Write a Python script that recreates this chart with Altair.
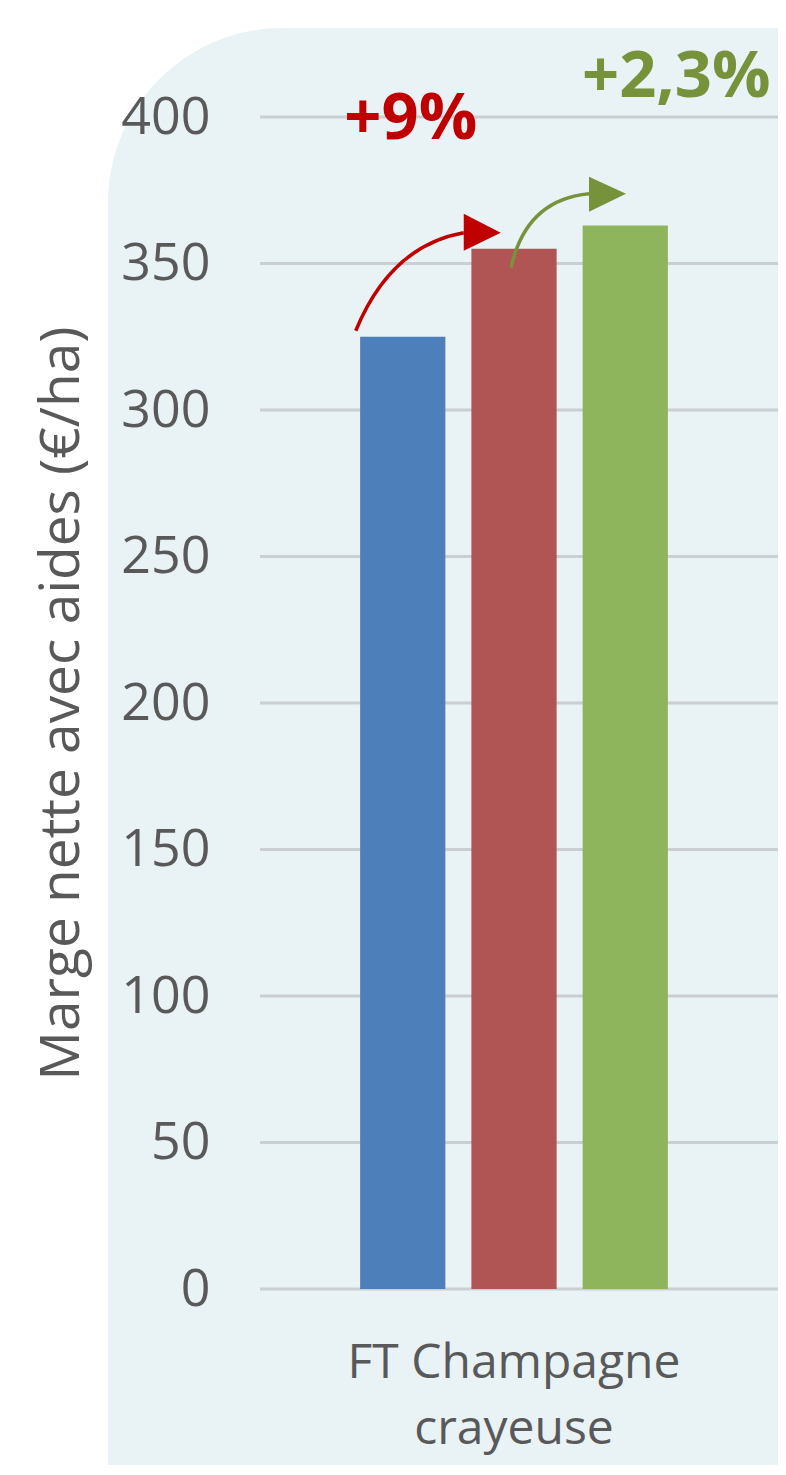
import altair as alt
import pandas as pd

# ---- data ----
categories = ["FT Champagne\ncrayeuse"]
series = ["Scénario 1", "Scénario 2", "Scénario 3"]
values = [325, 355, 363]
bar_colors = ["#4D80BA", "#B05454", "#8EB45C"]
y_ticks = [0, 50, 100, 150, 200, 250, 300, 350, 400]
gain_labels = ["+9%", "+2,3%"]
gain_colors = ["#C00000", "#76933C"]
y_title = "Marge nette avec aides (€/ha)"

W, H = 518, 1172
FONT = "Open Sans"
GREY = "#595959"

bars_df = pd.DataFrame({"cat": categories * len(series), "serie": series, "val": values})

yscale = alt.Scale(domain=[0, 400], nice=False)
xscale = alt.Scale(paddingInner=0, paddingOuter=0.278, align=0.473)
offscale = alt.Scale(paddingInner=0.234, paddingOuter=0.113)

yaxis = alt.Axis(values=y_ticks, labelFontSize=52, labelFont=FONT, labelColor=GREY,
                 labelPadding=50, domain=False, ticks=False, grid=False, zindex=1,
                 title=y_title, titleFontSize=55, titleFont=FONT, titleFontWeight="normal",
                 titleColor=GREY, titlePadding=30)
xaxis = alt.Axis(labelExpr="split(datum.label, '\\n')", labelFontSize=48, labelFont=FONT,
                 labelColor=GREY, labelPadding=50, domain=False, ticks=False, labelAngle=0,
                 labelLineHeight=66, labelLimit=1000, title=None, zindex=1)

X = alt.X("cat:N", scale=xscale, axis=xaxis, title=None)
XO = alt.XOffset("serie:N", scale=offscale, sort=series)
Y = alt.Y("val:Q", scale=yscale, axis=yaxis)

# rounded panel background
panel = alt.Chart(pd.DataFrame({"k": [0]})).mark_rect(
    color="#E9F2F5", cornerRadiusTopLeft=175
).encode(x=alt.value(-152), x2=alt.value(W + 40), y=alt.value(-89), y2=alt.value(H + 300))

# gridlines
grid = alt.Chart(pd.DataFrame({"val": y_ticks})).mark_rule(
    color="#C9CFD3", strokeWidth=3
).encode(y=Y, x=alt.value(0), x2=alt.value(W + 40))

bars = alt.Chart(bars_df).mark_bar().encode(
    x=X, xOffset=XO, y=Y,
    color=alt.Color("serie:N", scale=alt.Scale(domain=series, range=bar_colors), legend=None),
)

R = 200  # arrow shapes in units of R pixels
SIZE = (2 * R) ** 2
curve1 = "M -0.235 -0.03 Q -0.06 -0.455 0.305 -0.52"
head1 = "M 0.305 -0.615 L 0.49 -0.52 L 0.305 -0.43 Z"
curve2 = "M -0.015 0.095 Q 0.06 -0.245 0.375 -0.275"
head2 = "M 0.375 -0.36 L 0.56 -0.275 L 0.375 -0.185 Z"


def at(serie):
    return alt.Chart(bars_df).transform_filter(alt.datum.serie == serie)


arrow_layers = [
    at(series[0]).mark_point(shape=curve1, filled=False, size=SIZE, strokeWidth=3.5,
                             color=gain_colors[0], opacity=1).encode(x=X, xOffset=XO, y=Y),
    at(series[0]).mark_point(shape=head1, filled=True, size=SIZE, strokeWidth=0,
                             color=gain_colors[0], opacity=1).encode(x=X, xOffset=XO, y=Y),
    at(series[1]).mark_point(shape=curve2, filled=False, size=SIZE, strokeWidth=3.5,
                             color=gain_colors[1], opacity=1).encode(x=X, xOffset=XO, y=Y),
    at(series[1]).mark_point(shape=head2, filled=True, size=SIZE, strokeWidth=0,
                             color=gain_colors[1], opacity=1).encode(x=X, xOffset=XO, y=Y),
]

text1 = at(series[0]).mark_text(
    text=gain_labels[0], font=FONT, fontSize=65, fontWeight="bold", color=gain_colors[0],
    align="center", baseline="alphabetic", dx=8, dy=-198
).encode(x=X, xOffset=XO, y=Y)
text2 = at(series[2]).mark_text(
    text=gain_labels[1], font=FONT, fontSize=65, fontWeight="bold", color=gain_colors[1],
    align="center", baseline="alphabetic", dx=51, dy=-128
).encode(x=X, xOffset=XO, y=Y)

chart = alt.layer(panel, grid, bars, *arrow_layers, text1, text2).properties(
    width=W, height=H,
    autosize=alt.AutoSizeParams(type="none"),
    padding={"left": 252, "top": 109, "right": 0, "bottom": 176},
    background="white",
).configure_view(stroke=None)

chart.save("out.html", embed_options={"renderer": "svg", "actions": False})
